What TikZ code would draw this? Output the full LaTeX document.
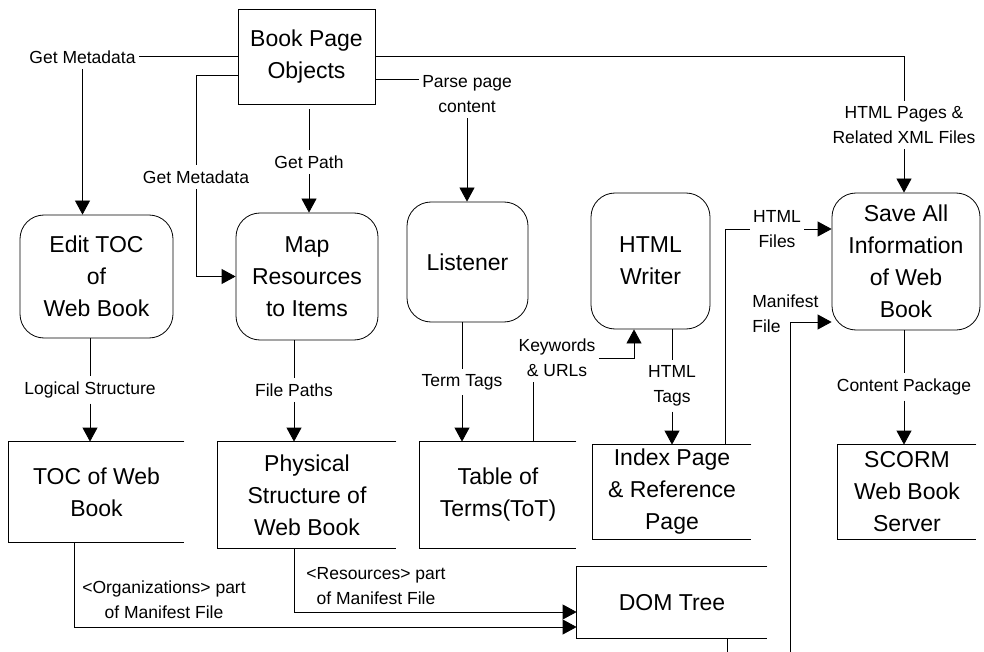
\documentclass[tikz,border=0pt]{standalone}
\usepackage{fontspec}
\setmainfont{Liberation Sans}
\usetikzlibrary{arrows.meta}
\newcommand\boxfont{\fontsize{23pt}{32pt}\selectfont}
\newcommand\lblfont{\fontsize{17.5pt}{25pt}\selectfont}
\begin{document}
\begin{tikzpicture}[x=1pt,y=-1pt,
  line width=0.8pt,
  proc/.style={draw, rounded corners=24pt, font=\boxfont, align=center, inner sep=0pt},
  ent/.style={draw, font=\boxfont, align=center, inner sep=0pt},
  store/.style={font=\boxfont, align=center, inner sep=0pt},
  lbl/.style={font=\lblfont, align=center, inner xsep=3pt, inner ysep=5pt},
  arr/.style={-{Triangle[length=14pt,width=15pt]}}]
\useasboundingbox (0,0) rectangle (984,652);

% source entity
\node[ent, minimum width=137pt, minimum height=95pt] (bpo) at (306.5,56.5) {Book Page\\Objects};

% processes
\node[proc, minimum width=153pt, minimum height=123pt] (edit) at (96.5,276.5) {Edit TOC\\of\\Web Book};
\node[proc, minimum width=142pt, minimum height=127pt] (map) at (307,276.5) {Map\\Resources\\to Items};
\node[proc, minimum width=121pt, minimum height=120pt] (lis) at (467.5,262) {Listener};
\node[proc, minimum width=119pt, minimum height=136pt] (hw) at (650.5,261) {HTML\\Writer};
\node[proc, minimum width=148pt, minimum height=137pt] (save) at (906,261.5) {Save All\\Information\\of Web\\Book};

% data stores (open on the right)
\node[store, minimum width=175pt, minimum height=100pt] (toc) at (96.5,492) {TOC of Web\\Book};
\node[store, minimum width=178pt, minimum height=106pt] (phys) at (307,495) {Physical\\Structure of\\Web Book};
\node[store, minimum width=156pt, minimum height=106pt] (tot) at (498,495) {Table of\\Terms(ToT)};
\node[store, minimum width=158pt, minimum height=94pt] (idx) at (672,492) {Index Page\\\& Reference\\Page};
\node[store, minimum width=138pt, minimum height=94pt] (scorm) at (907,492) {SCORM\\Web Book\\Server};
\node[store, minimum width=190pt, minimum height=71pt] (dom) at (672,602.5) {DOM Tree};
\foreach \n in {toc,phys,tot,idx,scorm,dom}
  \draw (\n.north east) -- (\n.north west) -- (\n.south west) -- (\n.south east);

% flow labels
\node[lbl] (gm1) at (82.5,57) {Get Metadata};
\node[lbl] (gm2) at (196,177) {Get Metadata};
\node[lbl] (gp) at (309,162) {Get Path};
\node[lbl] (ppc) at (467,94) {Parse page\\content};
\node[lbl] (hpx) at (904,125) {HTML Pages \&\\Related XML Files};
\node[lbl] (ls) at (90,390) {Logical Structure};
\node[lbl] (fp) at (294,390) {File Paths};
\node[lbl] (tt) at (462,382) {Term Tags};
\node[lbl] (cp) at (904,387) {Content Package};
\node[lbl] (ht) at (672,386) {HTML\\Tags};
\node[lbl] (kw) at (557,358) {Keywords\\\& URLs};
\node[lbl] (hf) at (777,229) {HTML\\Files};
\node[lbl, align=left, anchor=west] (mf) at (749,314) {Manifest\\File};
\node[lbl] (org) at (164,600) {<Organizations> part\\of Manifest File};
\node[lbl] (res) at (376,586) {<Resources> part\\of Manifest File};

% flows from the book page objects
\draw (bpo.west) -- (gm1.east |- bpo.west);
\draw[arr] (gm1.south) -- (gm1.south |- edit.north);
\draw ([yshift=-19pt]bpo.west) -| (gm2.north);
\draw[arr] (gm2.south) |- (map.west);
\draw ([yshift=-5pt]gp.north |- bpo.south) -- (gp.north);
\draw[arr] (gp.south) -- (gp.south |- map.north);
\draw ([yshift=-22.5pt]bpo.east) -- ([yshift=15pt]ppc.west);
\draw[arr] (ppc.south) -- (ppc.south |- lis.north);
\draw (bpo.east) -| (hpx.north);
\draw[arr] (hpx.south) -- (hpx.south |- save.north);

% processes to stores
\draw (ls.north |- edit.south) -- (ls.north);
\draw[arr] (ls.south) -- (ls.south |- toc.north);
\draw (fp.north |- map.south) -- (fp.north);
\draw[arr] (fp.south) -- (fp.south |- phys.north);
\draw (tt.north |- lis.south) -- (tt.north);
\draw[arr] (tt.south) -- (tt.south |- tot.north);
\draw (ht.north |- hw.south) -- (ht.north);
\draw[arr] (ht.south) -- (ht.south |- idx.north);
\draw (cp.north |- save.south) -- (cp.north);
\draw[arr] (cp.south) -- (cp.south |- scorm.north);

% terms to the HTML writer
\draw ([xshift=35pt]tot.north) -- ([xshift=35pt]tot.north |- kw.south);
\draw[arr] (kw.east) -| ([xshift=-16.5pt]hw.south);

% files into the save step
\draw ([xshift=53pt]idx.north) |- (hf.west);
\draw[arr] (hf.east) -- (hf.east -| save.west);
\coordinate (mfc) at (790,322);
\draw[arr] ([xshift=55pt]dom.south) -- ++(0,24) -| (mfc) -- (mfc -| save.west);

% manifest parts into the DOM tree
\draw[arr] ([xshift=-22.5pt]toc.south) |- ([yshift=-24.5pt]dom.west);
\draw[arr] ([xshift=-13pt]phys.south) |- ([yshift=-9.5pt]dom.west);
\end{tikzpicture}
\end{document}
